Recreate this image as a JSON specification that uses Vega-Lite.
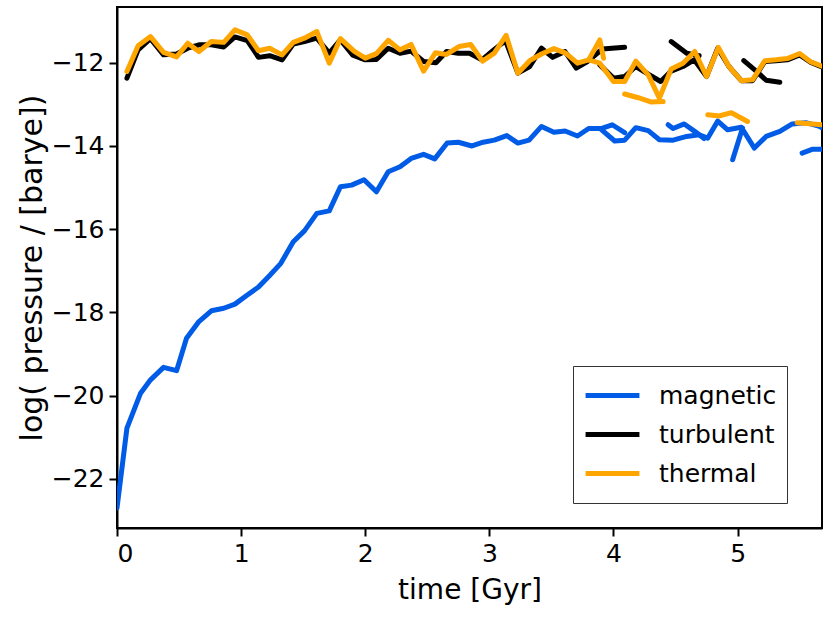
{
  "$schema": "https://vega.github.io/schema/vega-lite/v6.json",
  "width": 705,
  "height": 521,
  "autosize": {"type": "none"},
  "padding": {"left": 117, "top": 7, "right": 8, "bottom": 95},
  "background": "white",
  "config": {
    "font": "DejaVu Sans",
    "view": {"stroke": "black", "strokeWidth": 2},
    "axis": {
      "grid": false, "domainColor": "black", "domainWidth": 2, "tickColor": "black",
      "tickWidth": 2, "tickSize": 8, "labelFontSize": 25, "labelColor": "black",
      "titleFontSize": 28, "titleFontWeight": "normal", "titleColor": "black", "labelPadding": 5,
      "labelFont": "DejaVu Sans", "titleFont": "DejaVu Sans"
    },
    "legend": {
      "orient": "none", "legendX": 456, "legendY": 359, "strokeColor": "#333", "strokeWidth": 1,
      "padding": 10, "symbolType": "stroke", "symbolStrokeWidth": 5, "symbolSize": 2900,
      "labelFontSize": 25, "labelOffset": 17, "labelColor": "black", "rowPadding": 0, "clipHeight": 39,
      "labelFont": "DejaVu Sans"
    }
  },
  "data": {"values": [
    {"s":"magnetic","g":"M1","t":0.0,"p":-22.7},{"s":"magnetic","g":"M1","t":0.08,"p":-20.78},{"s":"magnetic","g":"M1","t":0.19,"p":-19.94},{"s":"magnetic","g":"M1","t":0.27,"p":-19.62},{"s":"magnetic","g":"M1","t":0.375,"p":-19.32},{"s":"magnetic","g":"M1","t":0.48,"p":-19.4},{"s":"magnetic","g":"M1","t":0.56,"p":-18.62},{"s":"magnetic","g":"M1","t":0.66,"p":-18.22},{"s":"magnetic","g":"M1","t":0.76,"p":-17.96},{"s":"magnetic","g":"M1","t":0.86,"p":-17.9},{"s":"magnetic","g":"M1","t":0.95,"p":-17.8},{"s":"magnetic","g":"M1","t":1.05,"p":-17.58},{"s":"magnetic","g":"M1","t":1.14,"p":-17.39},{"s":"magnetic","g":"M1","t":1.23,"p":-17.11},{"s":"magnetic","g":"M1","t":1.32,"p":-16.82},{"s":"magnetic","g":"M1","t":1.42,"p":-16.3},{"s":"magnetic","g":"M1","t":1.51,"p":-16.04},{"s":"magnetic","g":"M1","t":1.61,"p":-15.62},{"s":"magnetic","g":"M1","t":1.71,"p":-15.56},{"s":"magnetic","g":"M1","t":1.8,"p":-14.98},{"s":"magnetic","g":"M1","t":1.89,"p":-14.94},{"s":"magnetic","g":"M1","t":1.99,"p":-14.81},{"s":"magnetic","g":"M1","t":2.09,"p":-15.1},{"s":"magnetic","g":"M1","t":2.185,"p":-14.62},{"s":"magnetic","g":"M1","t":2.28,"p":-14.5},{"s":"magnetic","g":"M1","t":2.37,"p":-14.3},{"s":"magnetic","g":"M1","t":2.47,"p":-14.2},{"s":"magnetic","g":"M1","t":2.56,"p":-14.31},{"s":"magnetic","g":"M1","t":2.66,"p":-13.93},{"s":"magnetic","g":"M1","t":2.75,"p":-13.91},{"s":"magnetic","g":"M1","t":2.86,"p":-14.0},{"s":"magnetic","g":"M1","t":2.95,"p":-13.91},{"s":"magnetic","g":"M1","t":3.04,"p":-13.86},{"s":"magnetic","g":"M1","t":3.14,"p":-13.75},{"s":"magnetic","g":"M1","t":3.23,"p":-13.93},{"s":"magnetic","g":"M1","t":3.32,"p":-13.86},{"s":"magnetic","g":"M1","t":3.42,"p":-13.53},{"s":"magnetic","g":"M1","t":3.52,"p":-13.67},{"s":"magnetic","g":"M1","t":3.61,"p":-13.64},{"s":"magnetic","g":"M1","t":3.71,"p":-13.76},{"s":"magnetic","g":"M1","t":3.8,"p":-13.58},{"s":"magnetic","g":"M1","t":3.9,"p":-13.58},{"s":"magnetic","g":"M1","t":3.99,"p":-13.49},{"s":"magnetic","g":"M1","t":4.09,"p":-13.68},
    {"s":"magnetic","g":"M2","t":3.9,"p":-13.6},{"s":"magnetic","g":"M2","t":4.01,"p":-13.88},{"s":"magnetic","g":"M2","t":4.09,"p":-13.86},{"s":"magnetic","g":"M2","t":4.18,"p":-13.56},{"s":"magnetic","g":"M2","t":4.28,"p":-13.63},{"s":"magnetic","g":"M2","t":4.37,"p":-13.85},{"s":"magnetic","g":"M2","t":4.48,"p":-13.86},{"s":"magnetic","g":"M2","t":4.59,"p":-13.77},{"s":"magnetic","g":"M2","t":4.69,"p":-13.73},{"s":"magnetic","g":"M2","t":4.76,"p":-13.81},{"s":"magnetic","g":"M2","t":4.84,"p":-13.4},{"s":"magnetic","g":"M2","t":4.92,"p":-13.61},{"s":"magnetic","g":"M2","t":5.03,"p":-13.55},{"s":"magnetic","g":"M2","t":5.135,"p":-14.05},{"s":"magnetic","g":"M2","t":5.23,"p":-13.77},{"s":"magnetic","g":"M2","t":5.34,"p":-13.65},{"s":"magnetic","g":"M2","t":5.44,"p":-13.47},{"s":"magnetic","g":"M2","t":5.55,"p":-13.44},{"s":"magnetic","g":"M2","t":5.66,"p":-13.53},{"s":"magnetic","g":"M2","t":5.68,"p":-13.56},
    {"s":"magnetic","g":"M3","t":4.44,"p":-13.49},{"s":"magnetic","g":"M3","t":4.48,"p":-13.58},{"s":"magnetic","g":"M3","t":4.57,"p":-13.47},{"s":"magnetic","g":"M3","t":4.66,"p":-13.66},{"s":"magnetic","g":"M3","t":4.73,"p":-13.82},
    {"s":"magnetic","g":"M4","t":4.96,"p":-14.33},{"s":"magnetic","g":"M4","t":5.04,"p":-13.57},
    {"s":"magnetic","g":"M5","t":5.52,"p":-14.17},{"s":"magnetic","g":"M5","t":5.6,"p":-14.08},{"s":"magnetic","g":"M5","t":5.68,"p":-14.08},
    {"s":"turbulent","g":"B1","t":0.08,"p":-12.37},{"s":"turbulent","g":"B1","t":0.17,"p":-11.69},{"s":"turbulent","g":"B1","t":0.27,"p":-11.42},{"s":"turbulent","g":"B1","t":0.375,"p":-11.81},{"s":"turbulent","g":"B1","t":0.48,"p":-11.79},{"s":"turbulent","g":"B1","t":0.57,"p":-11.65},{"s":"turbulent","g":"B1","t":0.66,"p":-11.57},{"s":"turbulent","g":"B1","t":0.76,"p":-11.57},{"s":"turbulent","g":"B1","t":0.86,"p":-11.62},{"s":"turbulent","g":"B1","t":0.95,"p":-11.38},{"s":"turbulent","g":"B1","t":1.05,"p":-11.47},{"s":"turbulent","g":"B1","t":1.14,"p":-11.87},{"s":"turbulent","g":"B1","t":1.23,"p":-11.83},{"s":"turbulent","g":"B1","t":1.33,"p":-11.93},{"s":"turbulent","g":"B1","t":1.42,"p":-11.55},{"s":"turbulent","g":"B1","t":1.51,"p":-11.49},{"s":"turbulent","g":"B1","t":1.61,"p":-11.41},{"s":"turbulent","g":"B1","t":1.71,"p":-11.77},{"s":"turbulent","g":"B1","t":1.8,"p":-11.45},{"s":"turbulent","g":"B1","t":1.9,"p":-11.82},{"s":"turbulent","g":"B1","t":2.0,"p":-11.93},{"s":"turbulent","g":"B1","t":2.09,"p":-11.92},{"s":"turbulent","g":"B1","t":2.185,"p":-11.65},{"s":"turbulent","g":"B1","t":2.28,"p":-11.77},{"s":"turbulent","g":"B1","t":2.37,"p":-11.72},{"s":"turbulent","g":"B1","t":2.47,"p":-11.97},{"s":"turbulent","g":"B1","t":2.57,"p":-12.0},{"s":"turbulent","g":"B1","t":2.655,"p":-11.73},{"s":"turbulent","g":"B1","t":2.75,"p":-11.77},{"s":"turbulent","g":"B1","t":2.84,"p":-11.77},{"s":"turbulent","g":"B1","t":2.94,"p":-11.93},{"s":"turbulent","g":"B1","t":3.035,"p":-11.69},{"s":"turbulent","g":"B1","t":3.13,"p":-11.47},{"s":"turbulent","g":"B1","t":3.23,"p":-12.25},{"s":"turbulent","g":"B1","t":3.325,"p":-12.09},{"s":"turbulent","g":"B1","t":3.42,"p":-11.65},{"s":"turbulent","g":"B1","t":3.51,"p":-11.87},{"s":"turbulent","g":"B1","t":3.61,"p":-11.73},{"s":"turbulent","g":"B1","t":3.7,"p":-12.13},{"s":"turbulent","g":"B1","t":3.79,"p":-11.97},{"s":"turbulent","g":"B1","t":3.91,"p":-11.67},{"s":"turbulent","g":"B1","t":4.09,"p":-11.63},
    {"s":"turbulent","g":"B2","t":3.89,"p":-12.05},{"s":"turbulent","g":"B2","t":4.0,"p":-12.37},{"s":"turbulent","g":"B2","t":4.09,"p":-12.33},{"s":"turbulent","g":"B2","t":4.18,"p":-12.09},{"s":"turbulent","g":"B2","t":4.29,"p":-12.29},{"s":"turbulent","g":"B2","t":4.38,"p":-12.45},{"s":"turbulent","g":"B2","t":4.465,"p":-12.2},{"s":"turbulent","g":"B2","t":4.56,"p":-12.09},{"s":"turbulent","g":"B2","t":4.65,"p":-11.93},{"s":"turbulent","g":"B2","t":4.75,"p":-12.33},{"s":"turbulent","g":"B2","t":4.84,"p":-11.65},{"s":"turbulent","g":"B2","t":4.93,"p":-12.09},{"s":"turbulent","g":"B2","t":5.03,"p":-12.43},{"s":"turbulent","g":"B2","t":5.12,"p":-12.43},{"s":"turbulent","g":"B2","t":5.22,"p":-11.97},{"s":"turbulent","g":"B2","t":5.31,"p":-11.95},{"s":"turbulent","g":"B2","t":5.4,"p":-11.93},{"s":"turbulent","g":"B2","t":5.5,"p":-11.81},{"s":"turbulent","g":"B2","t":5.59,"p":-11.99},{"s":"turbulent","g":"B2","t":5.68,"p":-12.1},
    {"s":"turbulent","g":"B3","t":4.465,"p":-11.49},{"s":"turbulent","g":"B3","t":4.59,"p":-11.77},{"s":"turbulent","g":"B3","t":4.69,"p":-11.83},
    {"s":"turbulent","g":"B4","t":5.05,"p":-11.95},{"s":"turbulent","g":"B4","t":5.15,"p":-12.2},{"s":"turbulent","g":"B4","t":5.23,"p":-12.42},{"s":"turbulent","g":"B4","t":5.34,"p":-12.47},
    {"s":"thermal","g":"O1","t":0.08,"p":-12.21},{"s":"thermal","g":"O1","t":0.17,"p":-11.59},{"s":"thermal","g":"O1","t":0.27,"p":-11.37},{"s":"thermal","g":"O1","t":0.375,"p":-11.75},{"s":"thermal","g":"O1","t":0.48,"p":-11.86},{"s":"thermal","g":"O1","t":0.57,"p":-11.53},{"s":"thermal","g":"O1","t":0.66,"p":-11.73},{"s":"thermal","g":"O1","t":0.76,"p":-11.49},{"s":"thermal","g":"O1","t":0.86,"p":-11.51},{"s":"thermal","g":"O1","t":0.95,"p":-11.21},{"s":"thermal","g":"O1","t":1.05,"p":-11.33},{"s":"thermal","g":"O1","t":1.14,"p":-11.71},{"s":"thermal","g":"O1","t":1.23,"p":-11.65},{"s":"thermal","g":"O1","t":1.33,"p":-11.81},{"s":"thermal","g":"O1","t":1.42,"p":-11.51},{"s":"thermal","g":"O1","t":1.51,"p":-11.41},{"s":"thermal","g":"O1","t":1.61,"p":-11.25},{"s":"thermal","g":"O1","t":1.71,"p":-12.01},{"s":"thermal","g":"O1","t":1.8,"p":-11.42},{"s":"thermal","g":"O1","t":1.91,"p":-11.72},{"s":"thermal","g":"O1","t":2.0,"p":-11.89},{"s":"thermal","g":"O1","t":2.09,"p":-11.78},{"s":"thermal","g":"O1","t":2.185,"p":-11.46},{"s":"thermal","g":"O1","t":2.28,"p":-11.69},{"s":"thermal","g":"O1","t":2.37,"p":-11.56},{"s":"thermal","g":"O1","t":2.47,"p":-12.2},{"s":"thermal","g":"O1","t":2.565,"p":-11.76},{"s":"thermal","g":"O1","t":2.655,"p":-11.8},{"s":"thermal","g":"O1","t":2.755,"p":-11.61},{"s":"thermal","g":"O1","t":2.85,"p":-11.56},{"s":"thermal","g":"O1","t":2.945,"p":-11.96},{"s":"thermal","g":"O1","t":3.04,"p":-11.77},{"s":"thermal","g":"O1","t":3.135,"p":-11.34},{"s":"thermal","g":"O1","t":3.23,"p":-12.25},{"s":"thermal","g":"O1","t":3.325,"p":-11.95},{"s":"thermal","g":"O1","t":3.42,"p":-11.79},{"s":"thermal","g":"O1","t":3.52,"p":-11.66},{"s":"thermal","g":"O1","t":3.615,"p":-11.77},{"s":"thermal","g":"O1","t":3.71,"p":-12.01},{"s":"thermal","g":"O1","t":3.8,"p":-11.93},{"s":"thermal","g":"O1","t":3.89,"p":-11.45},{"s":"thermal","g":"O1","t":3.92,"p":-11.89},
    {"s":"thermal","g":"O2","t":3.8,"p":-11.93},{"s":"thermal","g":"O2","t":3.89,"p":-12.01},{"s":"thermal","g":"O2","t":4.0,"p":-12.45},{"s":"thermal","g":"O2","t":4.09,"p":-12.45},{"s":"thermal","g":"O2","t":4.18,"p":-11.96},{"s":"thermal","g":"O2","t":4.28,"p":-12.29},{"s":"thermal","g":"O2","t":4.37,"p":-12.85},{"s":"thermal","g":"O2","t":4.465,"p":-12.15},{"s":"thermal","g":"O2","t":4.56,"p":-12.01},{"s":"thermal","g":"O2","t":4.655,"p":-11.73},{"s":"thermal","g":"O2","t":4.75,"p":-12.33},{"s":"thermal","g":"O2","t":4.845,"p":-11.63},{"s":"thermal","g":"O2","t":4.93,"p":-12.09},{"s":"thermal","g":"O2","t":5.03,"p":-12.43},{"s":"thermal","g":"O2","t":5.12,"p":-12.41},{"s":"thermal","g":"O2","t":5.22,"p":-11.95},{"s":"thermal","g":"O2","t":5.31,"p":-11.93},{"s":"thermal","g":"O2","t":5.4,"p":-11.9},{"s":"thermal","g":"O2","t":5.5,"p":-11.78},{"s":"thermal","g":"O2","t":5.59,"p":-11.98},{"s":"thermal","g":"O2","t":5.68,"p":-12.08},
    {"s":"thermal","g":"O3","t":4.09,"p":-12.75},{"s":"thermal","g":"O3","t":4.2,"p":-12.84},{"s":"thermal","g":"O3","t":4.3,"p":-12.94},{"s":"thermal","g":"O3","t":4.4,"p":-12.93},
    {"s":"thermal","g":"O4","t":4.76,"p":-13.25},{"s":"thermal","g":"O4","t":4.85,"p":-13.28},{"s":"thermal","g":"O4","t":4.95,"p":-13.2},{"s":"thermal","g":"O4","t":5.08,"p":-13.41},
    {"s":"thermal","g":"O5","t":5.48,"p":-13.44},{"s":"thermal","g":"O5","t":5.68,"p":-13.49}
  ]},
  "encoding": {
    "x": {"field": "t", "type": "quantitative", "title": "time [Gyr]",
      "scale": {"domain": [0, 5.68], "nice": false, "zero": false},
      "axis": {"values": [0, 1, 2, 3, 4, 5], "titlePadding": 10}},
    "y": {"field": "p", "type": "quantitative", "title": "log( pressure / [barye])",
      "scale": {"domain": [-23.18, -10.66], "nice": false, "zero": false},
      "axis": {"values": [-22, -20, -18, -16, -14, -12], "titlePadding": 4, "titleFontSize": 30}},
    "color": {"field": "s", "type": "nominal", "title": null,
      "scale": {"domain": ["magnetic", "turbulent", "thermal"], "range": ["#005ce6", "#000000", "#ffa500"]}},
    "detail": {"field": "g"}
  },
  "layer": [
    {"transform": [{"filter": "datum.s === 'magnetic'"}], "mark": {"type": "line", "strokeWidth": 5, "strokeJoin": "round", "strokeCap": "round", "clip": true}},
    {"transform": [{"filter": "datum.s === 'turbulent'"}], "mark": {"type": "line", "strokeWidth": 5, "strokeJoin": "round", "strokeCap": "round", "clip": true}},
    {"transform": [{"filter": "datum.s === 'thermal'"}], "mark": {"type": "line", "strokeWidth": 5, "strokeJoin": "round", "strokeCap": "round", "clip": true}}
  ]
}
